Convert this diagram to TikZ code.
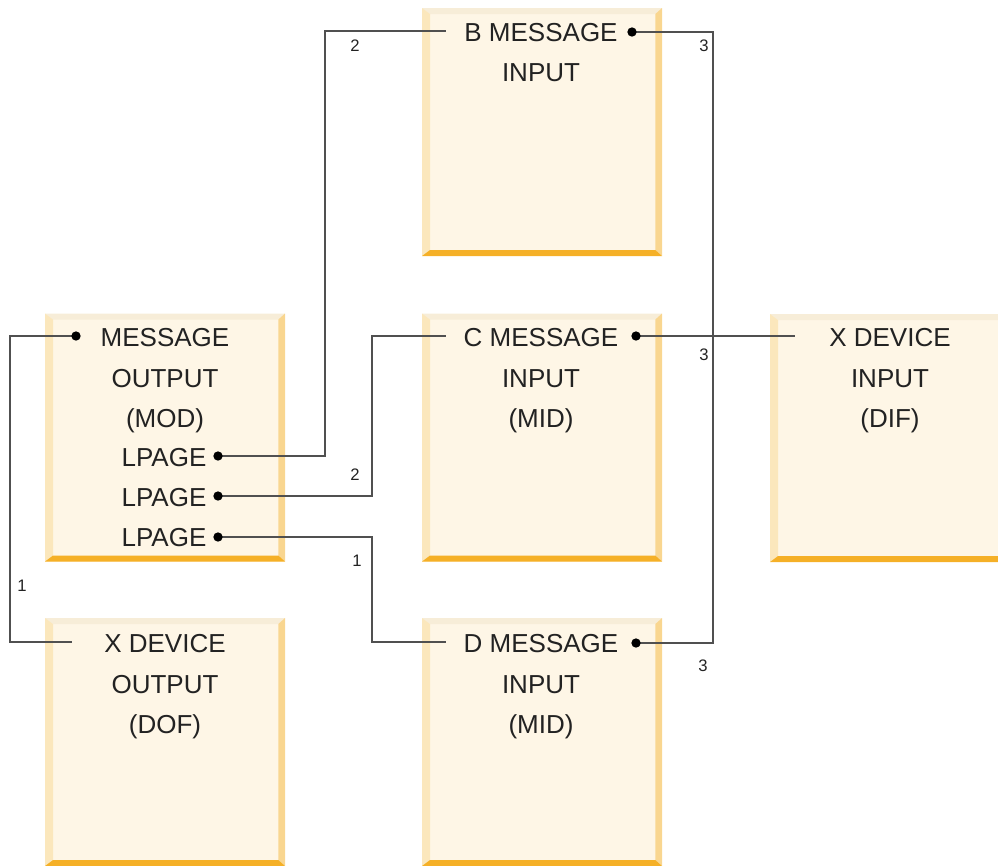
\documentclass[tikz,border=0pt]{standalone}
\usepackage{fontspec}
\setmainfont{Liberation Sans}
\usetikzlibrary{calc}
\definecolor{boxfill}{HTML}{FEF6E6}
\definecolor{bevleft}{HTML}{FBE7BC}
\definecolor{bevtop}{HTML}{F7EDD8}
\definecolor{bevright}{HTML}{F9D690}
\definecolor{bevbot}{HTML}{F5B027}
\definecolor{wirec}{HTML}{505050}
\definecolor{txtc}{HTML}{222222}
\tikzset{
  panel/.style={rectangle, inner sep=0pt, outer sep=0pt, fill=boxfill,
    minimum width=180pt, minimum height=186pt,
    path picture={
      \path (path picture bounding box.south west) coordinate (pSW)
            (path picture bounding box.north east) coordinate (pNE);
      \coordinate (pNW) at (pSW|-pNE);
      \coordinate (pSE) at (pNE|-pSW);
      \fill[bevtop] (pNW) -- (pNE) -- ($(pNE)+(-5pt,-4.5pt)$) -- ($(pNW)+(6pt,-4.5pt)$) -- cycle;
      \fill[bevleft] (pNW) -- ($(pNW)+(6pt,-4.5pt)$) -- ($(pSW)+(6pt,4.5pt)$) -- (pSW) -- cycle;
      \fill[bevright] (pNE) -- (pSE) -- ($(pSE)+(-5pt,4.5pt)$) -- ($(pNE)+(-5pt,-4.5pt)$) -- cycle;
      \fill[bevbot] (pSW) -- (pSE) -- ($(pSE)+(-5pt,4.5pt)$) -- ($(pSW)+(6pt,4.5pt)$) -- cycle;
    }},
  lbl/.style={inner sep=0pt, text=txtc, font=\fontsize{19.5}{23}\selectfont,
    text height=13.9pt, text depth=0pt},
  num/.style={inner sep=0pt, text=txtc, font=\fontsize{12.5}{14}\selectfont,
    text height=9pt, text depth=0pt},
  pin/.style={circle, fill=black, inner sep=0pt, minimum size=7pt},
  wire/.style={draw=wirec, line width=1pt},
}
\begin{document}
\begin{tikzpicture}[x=0.75pt, y=-0.75pt]
\useasboundingbox (0,0) rectangle (998,865);
\clip (0,0) rectangle (998,865);

% boxes
\node[panel] (mod) at (165,437.5) {};
\node[panel] (bmi) at (542,132) {};
\node[panel] (cmi) at (542,437.5) {};
\node[panel] (dmi) at (542,742) {};
\node[panel] (dof) at (165,742) {};
\node[panel] (dif) at (890,438) {};

% texts
\node[lbl] (modt1) at (165,337) {MESSAGE};
\node[lbl] (modt2) at (165,378) {OUTPUT};
\node[lbl] (modt3) at (165,418) {(MOD)};
\node[lbl] (modt4) at (164,457) {LPAGE};
\node[lbl] (modt5) at (164,497) {LPAGE};
\node[lbl] (modt6) at (164,537) {LPAGE};

\node[lbl] (bt1) at (541,32) {B MESSAGE};
\node[lbl] (bt2) at (541,72) {INPUT};

\node[lbl] (ct1) at (541,337) {C MESSAGE};
\node[lbl] (ct2) at (541,378) {INPUT};
\node[lbl] (ct3) at (541,418) {(MID)};

\node[lbl] (dt1) at (541,643) {D MESSAGE};
\node[lbl] (dt2) at (541,684) {INPUT};
\node[lbl] (dt3) at (541,724) {(MID)};

\node[lbl] (ft1) at (165,643) {X DEVICE};
\node[lbl] (ft2) at (165,684) {OUTPUT};
\node[lbl] (ft3) at (165,724) {(DOF)};

\node[lbl] (it1) at (890,337) {X DEVICE};
\node[lbl] (it2) at (890,378) {INPUT};
\node[lbl] (it3) at (890,418) {(DIF)};

% pins
\coordinate (mDot) at (76,336);
\coordinate (p1) at (218,456);
\coordinate (p2) at (218,496);
\coordinate (p3) at (218,537);
\coordinate (bDot) at (632,32);
\coordinate (cDot) at (636,336);
\coordinate (dDot) at (636,643);

% rails and free ends
\coordinate (r1) at (10,0);
\coordinate (r2) at (325,0);
\coordinate (r3) at (372,0);
\coordinate (r5) at (713,0);
\coordinate (e1) at (72,642);
\coordinate (e2) at (446,31);
\coordinate (e3) at (446,336);
\coordinate (e4) at (446,642);
\coordinate (e6) at (795,336);

% connectors
\draw[wire] (mDot) -| (r1|-e1) -- (e1);
\draw[wire] (p1) -| (r2|-e2) -- (e2);
\draw[wire] (p2) -| (r3|-e3) -- (e3);
\draw[wire] (p3) -| (r3|-e4) -- (e4);
\draw[wire] (bDot) -| (r5|-dDot) -- (dDot);
\draw[wire] (cDot) -- (e6);

\node[pin] (mPin) at (mDot) {};
\node[pin] (p1Pin) at (p1) {};
\node[pin] (p2Pin) at (p2) {};
\node[pin] (p3Pin) at (p3) {};
\node[pin] (bPin) at (bDot) {};
\node[pin] (cPin) at (cDot) {};
\node[pin] (dPin) at (dDot) {};

% numbers
\node[num] (n1) at (22,585) {1};
\node[num] (n2) at (355,45) {2};
\node[num] (n3) at (355,474) {2};
\node[num] (n4) at (357,560) {1};
\node[num] (n5) at (704,45) {3};
\node[num] (n6) at (704,354) {3};
\node[num] (n7) at (703,665) {3};
\end{tikzpicture}
\end{document}
